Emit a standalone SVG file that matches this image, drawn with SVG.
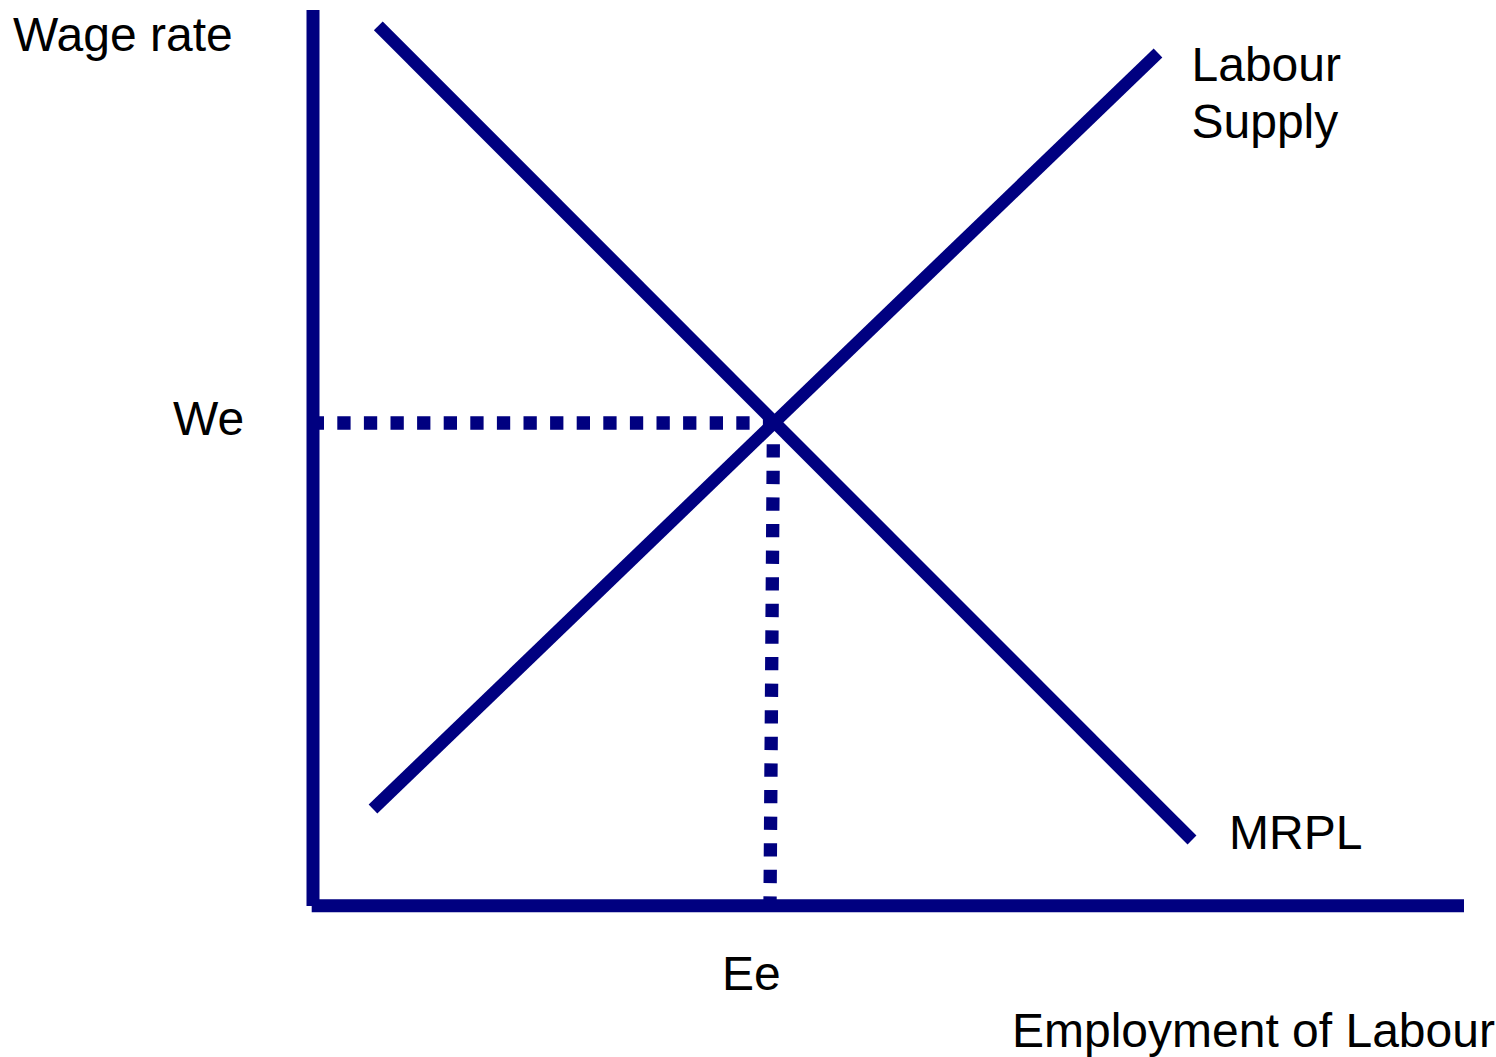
<svg xmlns="http://www.w3.org/2000/svg" width="1496" height="1057" viewBox="0 0 1496 1057">
<style>
.ln{stroke:#000080;fill:none;stroke-linecap:butt}
.ax{stroke-width:13}
.cv{stroke-width:12.5}
.dt{stroke-width:13.3;stroke-dasharray:13.3 13.3}
.lb{font-family:"Liberation Sans",Arial,sans-serif;font-size:48px;fill:#000}
</style>
<rect width="1496" height="1057" fill="#fff"/>
<g id="connectors">
<line class="ln dt" x1="310.7" y1="423" x2="776" y2="423"/>
<line class="ln dt" x1="773.5" y1="417.6" x2="770" y2="906"/>
<line class="ln ax" x1="313" y1="10" x2="313" y2="906"/>
<line class="ln ax" x1="311.7" y1="905.8" x2="1464" y2="905.8"/>
<line id="mrpl" class="ln cv" x1="378.3" y1="25.8" x2="1192" y2="840"/>
<line id="supply" class="ln cv" x1="373" y1="809" x2="1158" y2="53"/>
</g>
<g id="label-wage"><text class="lb" x="13" y="51">Wage rate</text></g>
<g id="label-we"><text class="lb" x="173" y="435">We</text></g>
<g id="label-ee"><text class="lb" x="722" y="990">Ee</text></g>
<g id="label-employment"><text class="lb" x="1012" y="1047">Employment of Labour</text></g>
<g id="label-mrpl"><text class="lb" x="1229" y="849">MRPL</text></g>
<g id="label-supply"><text class="lb" x="1191.5" y="81">Labour</text><text class="lb" x="1191.5" y="138">Supply</text></g>
</svg>
